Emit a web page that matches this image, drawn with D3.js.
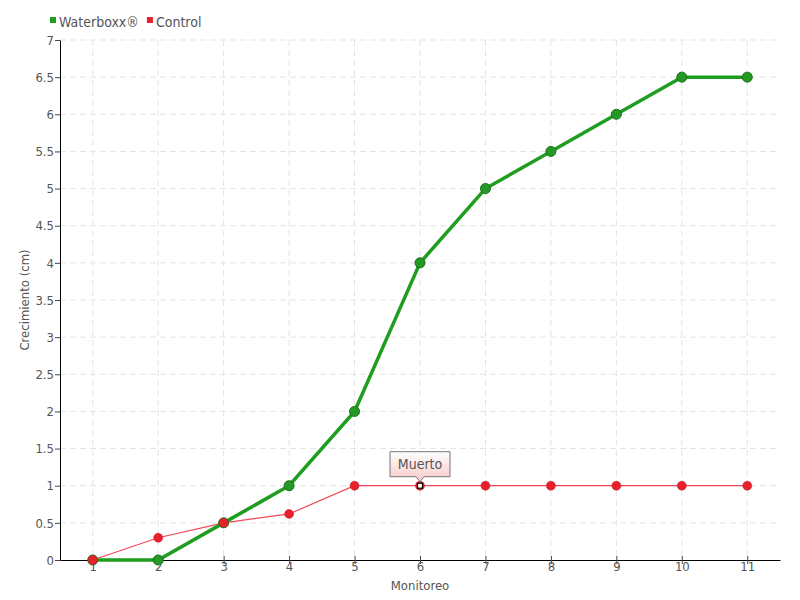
<!DOCTYPE html>
<html>
<head>
<meta charset="utf-8">
<style>
  body { margin: 0; background: #fff; }
  text { font-family: "DejaVu Sans Condensed", "DejaVu Sans", sans-serif; font-stretch: condensed; fill: #555; }
</style>
</head>
<body>
<script src="https://cdn.jsdelivr.net/npm/d3@7"></script>
<script>
  const width = 800
  const height = 600
  const monitoreo = [1, 2, 3, 4, 5, 6, 7, 8, 9, 10, 11]
  const waterboxx = [0, 0, 0.5, 1, 2, 4, 5, 5.5, 6, 6.5, 6.5]
  const control = [0, 0.3, 0.5, 0.62, 1, 1, 1, 1, 1, 1, 1]
  const yTicks = [0, 0.5, 1, 1.5, 2, 2.5, 3, 3.5, 4, 4.5, 5, 5.5, 6, 6.5, 7]
  const noteIndex = 5 // "Muerto" on control series

  const margin = { top: 40, right: 20, bottom: 40, left: 60 }
  const font = "'DejaVu Sans Condensed', 'DejaVu Sans', sans-serif"

  const svg = d3.select("body").append("svg")
    .attr("width", width)
    .attr("height", height)

  const x = d3.scaleLinear().domain([0.5, 11.5]).range([margin.left, width - margin.right])
  const y = d3.scaleLinear().domain([0, 7]).range([height - margin.bottom, margin.top])

  // grid
  const grid = svg.append("g")
  grid.selectAll("line.h").data(yTicks.slice(1))
    .enter().append("line")
    .attr("x1", margin.left).attr("x2", width - margin.right)
    .attr("y1", d => y(d)).attr("y2", d => y(d))
    .attr("stroke", "#e4e4e4").attr("stroke-dasharray", "6,4")
  grid.selectAll("line.v").data(monitoreo)
    .enter().append("line")
    .attr("x1", d => x(d)).attr("x2", d => x(d))
    .attr("y1", margin.top).attr("y2", height - margin.bottom)
    .attr("stroke", "#e4e4e4").attr("stroke-dasharray", "6,4")

  // axes
  const xAxis = svg.append("g")
    .attr("transform", `translate(0,${height - margin.bottom})`)
    .call(d3.axisBottom(x).tickValues(monitoreo).tickFormat(d3.format("d")).tickSize(4).tickSizeOuter(0))
  xAxis.select(".domain").attr("stroke", "#000")
  xAxis.selectAll(".tick line").attr("y1", -4).attr("stroke", "#444")
  xAxis.selectAll(".tick text").attr("y", 2).attr("dy", "0.71em")

  const yAxis = svg.append("g")
    .attr("transform", `translate(${margin.left},0)`)
    .call(d3.axisLeft(y).tickValues(yTicks).tickFormat(d => d).tickSize(5).tickSizeOuter(0))
  yAxis.select(".domain").attr("stroke", "#000")
  yAxis.selectAll(".tick line").attr("stroke", "#444")
  yAxis.selectAll(".tick text").attr("x", -6)

  svg.selectAll(".tick text")
    .style("fill", "#555").style("font-size", "13px")
    .style("font-family", font).style("font-stretch", "condensed")

  svg.append("text")
    .attr("x", x(6)).attr("y", 590)
    .attr("text-anchor", "middle")
    .style("font-size", "13px")
    .text("Monitoreo")

  svg.append("text")
    .attr("transform", `translate(29,${y(3.5)}) rotate(-90)`)
    .attr("text-anchor", "middle")
    .style("font-size", "13px")
    .text("Crecimiento (cm)")

  // series
  const line = d3.line().x((d, i) => x(monitoreo[i])).y(d => y(d))

  svg.append("path").datum(control)
    .attr("d", line).attr("fill", "none")
    .attr("stroke", "#f04858").attr("stroke-width", 1.2)

  svg.append("path").datum(waterboxx)
    .attr("d", line).attr("fill", "none")
    .attr("stroke", "#1f9d1f").attr("stroke-width", 3.5)

  svg.append("g").selectAll("circle").data(waterboxx)
    .enter().append("circle")
    .attr("cx", (d, i) => x(monitoreo[i])).attr("cy", d => y(d))
    .attr("r", 5).attr("fill", "#249a24").attr("stroke", "#1a6e1a").attr("stroke-width", 1)

  svg.append("g").selectAll("circle").data(control)
    .enter().append("circle")
    .attr("cx", (d, i) => x(monitoreo[i])).attr("cy", d => y(d))
    .attr("r", 4.5).attr("fill", "#e8202c").attr("stroke", "#c81824").attr("stroke-width", 0.5)

  // annotation
  const nx = x(monitoreo[noteIndex])
  const ny = y(control[noteIndex])
  const defs = svg.append("defs")
  const grad = defs.append("linearGradient").attr("id", "noteGrad")
    .attr("x1", 0).attr("y1", 0).attr("x2", 0).attr("y2", 1)
  grad.append("stop").attr("offset", "0%").attr("stop-color", "#fff")
  grad.append("stop").attr("offset", "100%").attr("stop-color", "#f8c8c8")

  const bx = nx - 30, by = ny - 34, bw = 60, bh = 25
  svg.append("path")
    .attr("d", `M${bx},${by} H${bx + bw} V${by + bh} H${nx + 4} L${nx},${ny - 4} L${nx - 4},${by + bh} H${bx} Z`)
    .attr("fill", "url(#noteGrad)").attr("stroke", "#777").attr("stroke-width", 1)
  svg.append("text")
    .attr("x", nx).attr("y", by + 17)
    .attr("text-anchor", "middle")
    .style("font-size", "14px")
    .text("Muerto")
  svg.append("rect")
    .attr("x", nx - 2.5).attr("y", ny - 2.5).attr("width", 5).attr("height", 5)
    .attr("fill", "#fff").attr("stroke", "#000").attr("stroke-width", 1.2)

  // legend
  const legend = [{ name: "Waterboxx®", color: "#1f9d1f" }, { name: "Control", color: "#e8202c" }]
  const lg = svg.append("g").attr("transform", "translate(50,22)")
  let off = 0
  legend.forEach(d => {
    const g = lg.append("g").attr("transform", `translate(${off},0)`)
    g.append("rect").attr("x", 0).attr("y", -5).attr("width", 6).attr("height", 6).attr("fill", d.color)
    const t = g.append("text").attr("x", 9).attr("y", 0).attr("dy", "0.35em").style("font-size", "14px").text(d.name)
    off += 9 + t.node().getComputedTextLength() + 8
  })
</script>
</body>
</html>
